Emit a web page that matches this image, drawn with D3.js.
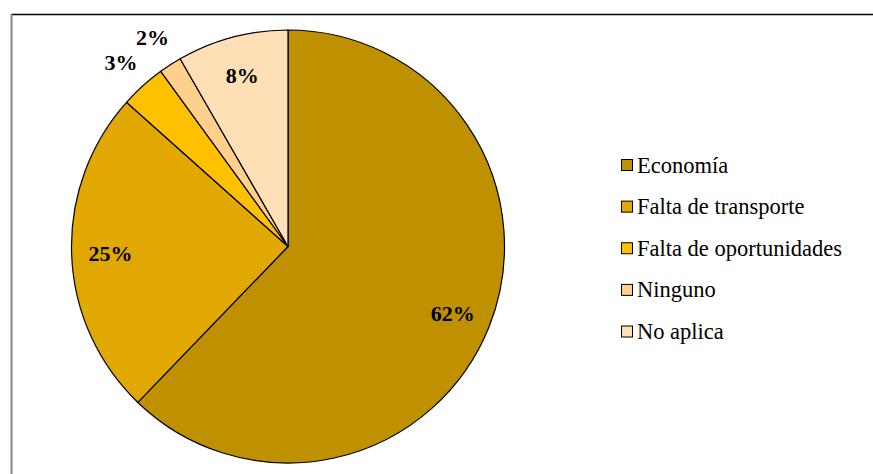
<!DOCTYPE html>
<html>
<head>
<meta charset="utf-8">
<script src="https://cdn.jsdelivr.net/npm/d3@7"></script>
<style>
  body { margin: 0; background: #fff; }
</style>
</head>
<body>
<div id="chart"></div>
<script>
// data
var categories = ["Economía", "Falta de transporte", "Falta de oportunidades", "Ninguno", "No aplica"];
var values = [62.2, 24.4, 3.4, 1.7, 8.3];
var labels = ["62%", "25%", "3%", "2%", "8%"];
var colors = ["#bf9000", "#e0a800", "#ffc000", "#ffd08c", "#ffe0b6"];

var width = 873, height = 474;
var cx = 288, cy = 246.5, r = 216.5;
var font = "'Liberation Serif', 'Times New Roman', Times, 'DejaVu Serif', serif";

var svg = d3.select("#chart")
  .append("svg")
  .attr("width", width)
  .attr("height", height)
  .style("font-family", font);

// frame: dark top line, grey left line
svg.append("line")
  .attr("x1", 11).attr("x2", width)
  .attr("y1", 14.5).attr("y2", 14.5)
  .style("stroke", "#000").style("stroke-width", 1.5);
svg.append("line")
  .attr("x1", 11.5).attr("x2", 11.5)
  .attr("y1", 14).attr("y2", height)
  .style("stroke", "#888").style("stroke-width", 2);

var pie = d3.pie().sort(null).value(function(d) { return d; });
var arcs = pie(values);
var arc = d3.arc().innerRadius(0).outerRadius(r);

var g = svg.append("g")
  .attr("transform", "translate(" + cx + "," + cy + ")");

g.selectAll("path")
  .data(arcs)
  .enter()
  .append("path")
  .attr("d", arc)
  .style("fill", function(d, i) { return colors[i]; })
  .style("stroke", "#000")
  .style("stroke-width", 1.2)
  .style("stroke-linejoin", "round");

// small slices get their label outside the pie
g.selectAll("text.lbl")
  .data(arcs)
  .enter()
  .append("text")
  .attr("class", "lbl")
  .attr("transform", function(d) {
    var rr = d.value < 5 ? r * 1.15 : r * 0.82;
    var a = (d.startAngle + d.endAngle) / 2;
    return "translate(" + (Math.sin(a) * rr) + "," + (-Math.cos(a) * rr) + ")";
  })
  .attr("text-anchor", "middle")
  .attr("dy", "0.35em")
  .style("font-family", font)
  .style("font-size", "22px")
  .style("font-weight", "bold")
  .text(function(d, i) { return labels[i]; });

// legend
var ly = d3.scalePoint()
  .domain(categories)
  .range([165, 331.5]);

var leg = svg.append("g");
var item = leg.selectAll("g")
  .data(categories)
  .enter()
  .append("g")
  .attr("transform", function(d) { return "translate(621," + ly(d) + ")"; });

item.append("rect")
  .attr("x", 0.5).attr("y", -5.5)
  .attr("width", 11).attr("height", 11)
  .style("fill", function(d, i) { return colors[i]; })
  .style("stroke", "#000")
  .style("stroke-width", 1);

item.append("text")
  .attr("x", 16)
  .attr("y", 7.5)
  .style("font-family", font)
  .style("font-size", "22.5px")
  .text(function(d) { return d; });
</script>
</body>
</html>
